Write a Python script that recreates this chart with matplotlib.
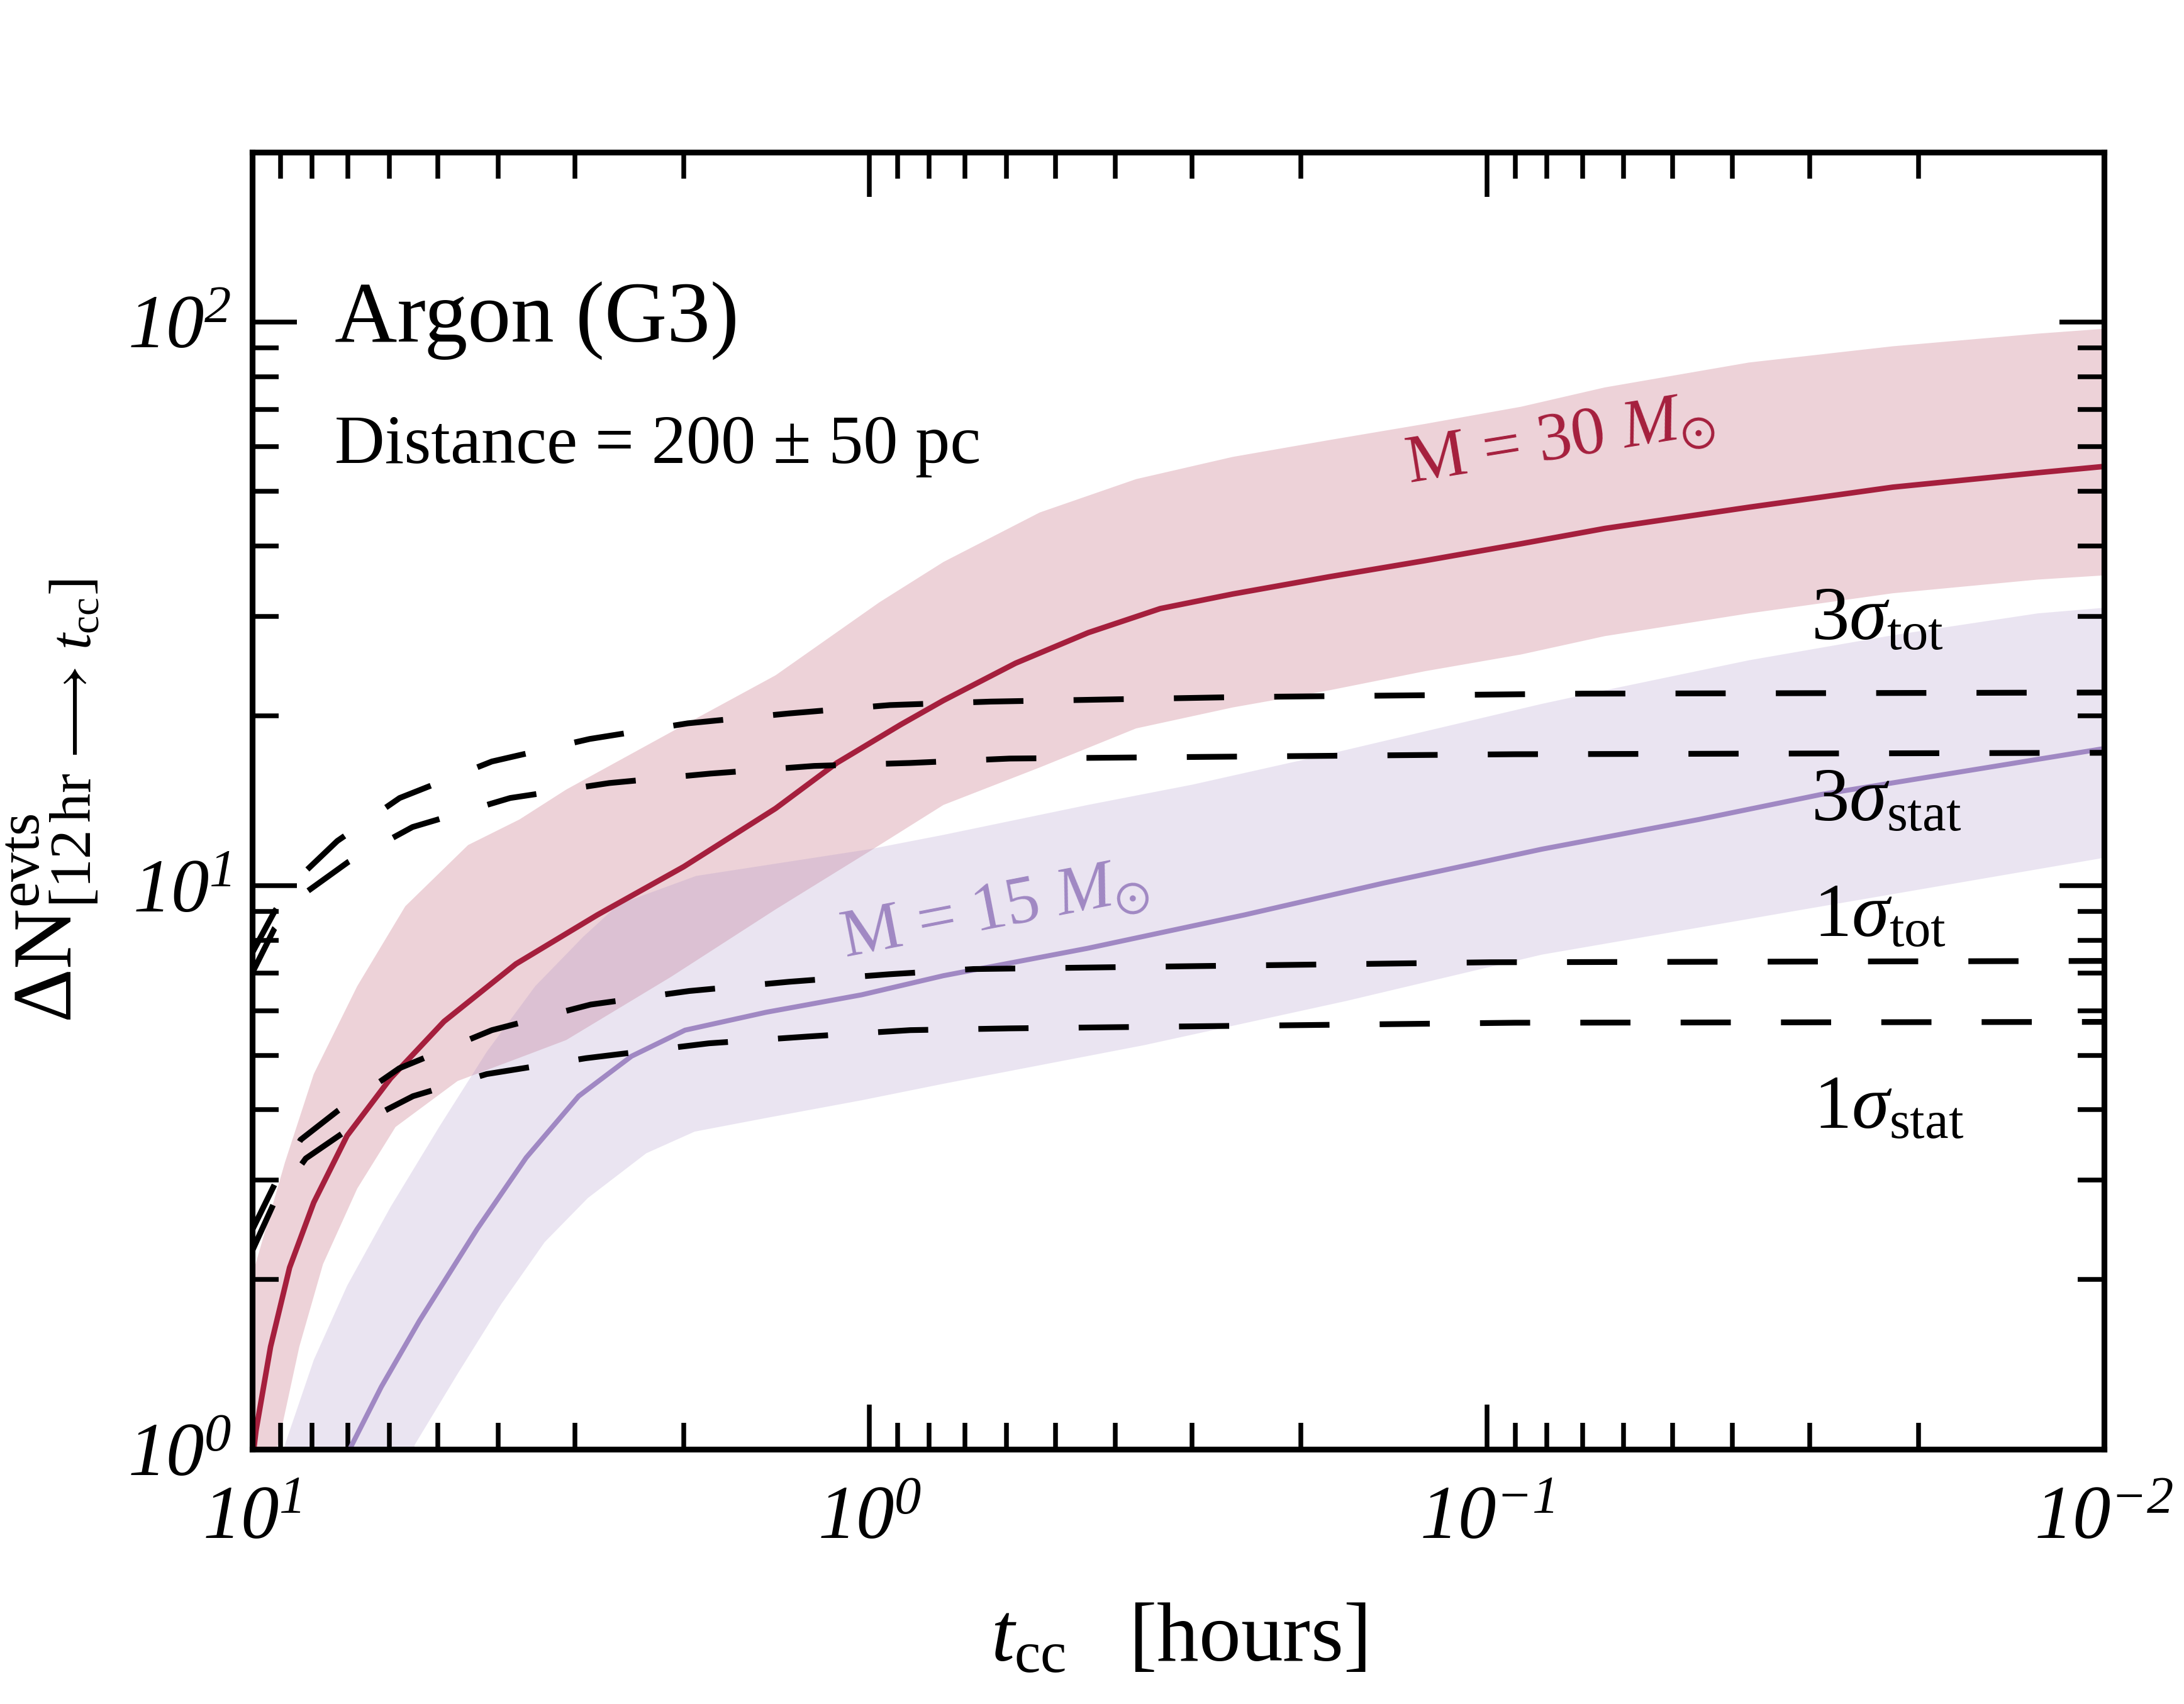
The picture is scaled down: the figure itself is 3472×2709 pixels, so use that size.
import matplotlib
matplotlib.use('Agg')
import matplotlib.pyplot as plt
import numpy as np
from matplotlib.ticker import LogLocator, NullFormatter

plt.rcParams['font.family'] = ['Liberation Serif', 'DejaVu Serif']
# italic digits for the tick labels, upright text via \mathsf
plt.rcParams['mathtext.fontset'] = 'custom'
plt.rcParams['mathtext.rm'] = 'Liberation Serif:italic'
plt.rcParams['mathtext.it'] = 'Liberation Serif:italic'
plt.rcParams['mathtext.sf'] = 'Liberation Serif'
plt.rcParams['mathtext.bf'] = 'Liberation Serif:bold'
plt.rcParams['mathtext.fallback'] = 'stix'

# M = 30 Msun: central curve and band edges (t_cc in hours, events)
red_t = [10.0, 9.86, 9.34, 8.70, 7.95, 7.02, 5.97, 4.89, 3.74, 2.76, 2.0, 1.42, 1.13,
         0.89, 0.759, 0.580, 0.442, 0.338, 0.258, 0.180, 0.126, 0.088, 0.0644, 0.0376,
         0.0220, 0.0128, 0.01]
red_N = [0.95, 1.08, 1.52, 2.10, 2.74, 3.60, 4.55, 5.74, 7.26, 8.87, 10.8, 13.7, 16.5,
         19.3, 21.3, 24.8, 28.1, 31.0, 32.9, 35.3, 37.7, 40.4, 43.0, 46.9,
         50.9, 54.0, 55.4]
red_up_t = [10.0, 9.89, 8.85, 7.95, 6.76, 5.65, 4.47, 3.69, 3.10, 2.10, 1.42, 0.964,
            0.759, 0.530, 0.370, 0.258, 0.180, 0.126, 0.088, 0.0644, 0.0376, 0.0220,
            0.0128, 0.01]
red_up_N = [1.9, 2.12, 3.23, 4.63, 6.63, 9.19, 11.8, 13.1, 14.8, 18.7, 23.6, 31.8,
            37.5, 45.9, 52.6, 57.6, 61.7, 65.9, 70.7, 76.5, 84.7, 90.5,
            95.3, 97.2]
red_lo_t = [10.0, 9.08, 8.39, 7.68, 6.76, 5.86, 4.65, 3.60, 3.10, 2.10, 1.42, 1.0,
            0.759, 0.530, 0.370, 0.258, 0.180, 0.126, 0.088, 0.0644, 0.0376, 0.0220,
            0.0128, 0.01]
red_lo_N = [0.8, 1.02, 1.52, 2.13, 2.90, 3.73, 4.5, 5.0, 5.32, 6.88, 9.07, 11.5,
            13.9, 16.2, 19.0, 20.7, 22.2, 24.0, 25.7, 27.7, 30.4, 33.0,
            34.9, 35.5]

# M = 15 Msun
pur_t = [7.3, 6.89, 6.18, 5.36, 4.32, 3.60, 2.96, 2.43, 1.99, 1.47, 1.03, 0.759,
         0.443, 0.247, 0.147, 0.0815, 0.0453, 0.0288, 0.01]
pur_N = [0.9, 1.02, 1.29, 1.69, 2.46, 3.29, 4.23, 4.98, 5.54, 5.96, 6.40, 6.92,
         7.74, 8.87, 10.1, 11.6, 13.1, 14.5, 17.5]
pur_up_t = [9.5, 8.85, 7.95, 7.02, 5.97, 4.98, 4.17, 3.48, 2.91, 2.55, 1.91, 1.0,
            0.759, 0.443, 0.300, 0.185, 0.0815, 0.0644, 0.0376, 0.0220, 0.0128, 0.01]
pur_up_N = [0.8, 1.02, 1.44, 1.95, 2.69, 3.73, 5.07, 6.63, 8.11, 9.26, 10.4, 11.6,
            12.3, 13.9, 15.1, 17.0, 21.0, 22.2, 25.1, 27.8, 30.4, 31.1]
pur_lo_t = [5.6, 5.45, 4.65, 3.95, 3.36, 2.86, 2.30, 1.92, 1.47, 1.03, 0.759, 0.359,
            0.169, 0.0815, 0.0286, 0.01]
pur_lo_N = [0.9, 1.02, 1.36, 1.81, 2.33, 2.79, 3.35, 3.66, 3.87, 4.16, 4.45, 5.21,
            6.24, 7.54, 9.19, 11.2]

# significance thresholds
s3tot_t = [10, 9.2, 8.35, 7.28, 5.77, 4.09, 2.84, 1.97, 1.35, 0.927, 0.637, 0.25, 0.07, 0.01]
s3tot_N = [7.6, 9.0, 10.4, 12.0, 14.3, 16.6, 18.2, 19.4, 20.2, 20.9, 21.2, 21.6, 21.9, 22.0]
s3stat_t = [10, 9.2, 8.19, 7.0, 5.50, 3.82, 2.64, 1.81, 1.23, 0.859, 0.593, 0.09, 0.01]
s3stat_N = [7.0, 8.4, 9.72, 11.0, 12.7, 14.3, 15.2, 15.8, 16.3, 16.5, 16.8, 17.1, 17.2]
s1tot_t = [10, 9.2, 8.35, 7.28, 5.78, 4.09, 2.83, 1.96, 1.35, 0.93, 0.679, 0.099, 0.01]
s1tot_N = [2.45, 2.95, 3.54, 3.98, 4.74, 5.54, 6.15, 6.50, 6.75, 6.96, 7.11, 7.31, 7.35]
s1stat_t = [10, 9.2, 8.19, 7.0, 5.49, 4.17, 2.88, 1.82, 1.25, 0.859, 0.593, 0.09, 0.01]
s1stat_N = [2.25, 2.75, 3.28, 3.69, 4.23, 4.63, 4.94, 5.25, 5.40, 5.54, 5.58, 5.71, 5.73]

xticks = [10, 1, 0.1, 0.01]
xticklabels = [r'$10^{1}$', r'$10^{0}$', r'$10^{-1}$', r'$10^{-2}$']
yticks = [1, 10, 100]
yticklabels = [r'$10^{0}$', r'$10^{1}$', r'$10^{2}$']

red = '#a51f3d'
purple = '#a088c3'

fig = plt.figure(figsize=(3472 / 300, 2709 / 300), dpi=300)
ax = fig.add_axes([0.1155, 0.1495, 0.8479, 0.7612])
ax.set_xscale('log')
ax.set_yscale('log')

ax.fill(red_up_t + red_lo_t[::-1], red_up_N + red_lo_N[::-1], color=red, alpha=0.2, lw=0)
ax.fill(pur_up_t + pur_lo_t[::-1], pur_up_N + pur_lo_N[::-1], color=purple, alpha=0.22, lw=0)
ax.plot(red_t, red_N, color=red, lw=2.1)
ax.plot(pur_t, pur_N, color=purple, lw=1.9)

for tt, nn in [(s3tot_t, s3tot_N), (s3stat_t, s3stat_N), (s1tot_t, s1tot_N), (s1stat_t, s1stat_N)]:
    ax.plot(tt, nn, color='black', lw=2.2, dashes=(8.7, 8.7))

ax.set_xlim(10, 0.01)
ax.set_ylim(1, 200)

ax.set_xticks(xticks, labels=xticklabels)
ax.set_yticks(yticks, labels=yticklabels)
ax.xaxis.set_minor_locator(LogLocator(base=10, subs=np.arange(2, 10)))
ax.yaxis.set_minor_locator(LogLocator(base=10, subs=np.arange(2, 10)))
ax.xaxis.set_minor_formatter(NullFormatter())
ax.yaxis.set_minor_formatter(NullFormatter())
ax.tick_params(which='both', direction='in', top=True, right=True, width=1.8, labelsize=29)
ax.tick_params(which='major', length=17)
ax.tick_params(which='minor', length=10)
ax.tick_params(axis='x', pad=14)
ax.tick_params(axis='y', pad=8)
for s in ax.spines.values():
    s.set_linewidth(2.2)

ax.set_xlabel(r'$t_{\mathsf{cc}}\quad$[hours]', fontsize=32, labelpad=18)
ax.set_ylabel(r'$\mathsf{\Delta N}^{\mathsf{evts}}_{\mathsf{[12\,hr}\,\longrightarrow\,t_{\mathsf{cc}}\mathsf{]}}$',
              fontsize=32, labelpad=10)

ax.text(0.0445, 0.8535, 'Argon (G3)', transform=ax.transAxes, fontsize=33, va='baseline')
ax.text(0.0445, 0.7604, 'Distance = 200 ± 50 pc', transform=ax.transAxes, fontsize=26.5, va='baseline')

ax.text(0.8417, 0.6242, r'$\mathsf{3}\sigma_{\mathsf{tot}}$', transform=ax.transAxes, fontsize=29, va='baseline')
ax.text(0.8417, 0.4845, r'$\mathsf{3}\sigma_{\mathsf{stat}}$', transform=ax.transAxes, fontsize=29, va='baseline')
ax.text(0.8430, 0.3952, r'$\mathsf{1}\sigma_{\mathsf{tot}}$', transform=ax.transAxes, fontsize=29, va='baseline')
ax.text(0.8430, 0.2473, r'$\mathsf{1}\sigma_{\mathsf{stat}}$', transform=ax.transAxes, fontsize=29, va='baseline')

ax.text(0.6247, 0.7454, r'M = 30 $M_{\odot}$', transform=ax.transAxes, fontsize=26, color=red,
        rotation=9.2, rotation_mode='anchor', ha='left', va='baseline')
ax.text(0.3203, 0.3797, r'M = 15 $M_{\odot}$', transform=ax.transAxes, fontsize=26, color=purple,
        rotation=11, rotation_mode='anchor', ha='left', va='baseline')

fig.savefig('out.png', dpi=300)
